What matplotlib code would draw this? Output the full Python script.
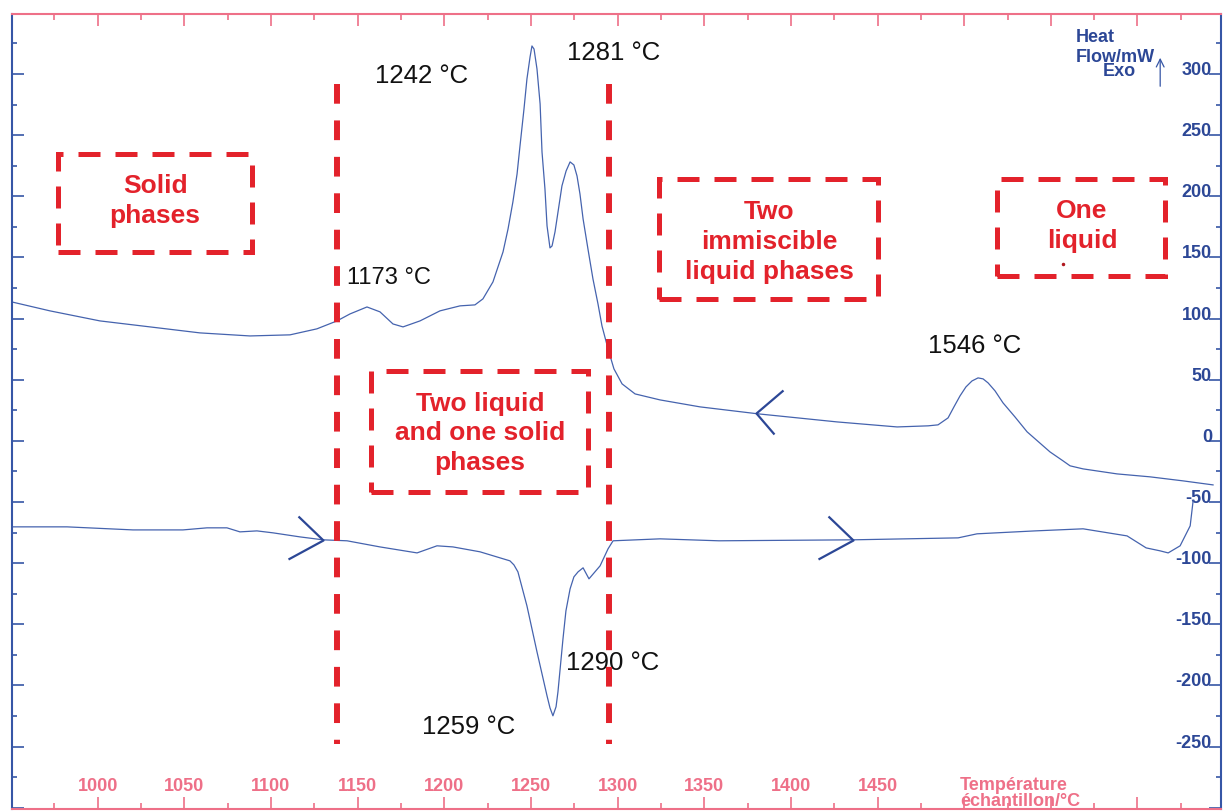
import matplotlib
matplotlib.use('Agg')
import matplotlib.pyplot as plt
from matplotlib.patches import Rectangle
from matplotlib.ticker import FixedLocator, MultipleLocator, FuncFormatter

plt.rcParams['font.family'] = ['Liberation Sans', 'DejaVu Sans']
plt.rcParams['axes.unicode_minus'] = False

# cooling run (upper trace), sample temperature / heat flow in mW
cool_T = [950.5, 972.5, 1001.3, 1030.2, 1059.0, 1087.9, 1111.0, 1126.5, 1138.1,
          1145.6, 1155.4, 1162.9, 1170.4, 1176.2, 1186.0, 1197.5, 1209.1, 1217.7,
          1222.3, 1228.1, 1233.9, 1236.8, 1239.6, 1242.0, 1243.7, 1246.0, 1247.7,
          1249.5, 1250.6, 1251.8, 1253.5, 1255.3, 1256.4, 1258.1, 1259.3, 1261.0,
          1262.2, 1263.9, 1267.9, 1270.3, 1272.6, 1274.8, 1276.6, 1278.3, 1280.1,
          1282.9, 1285.8, 1288.7, 1291.0, 1294.5, 1297.9, 1302.6, 1310.1, 1324.5,
          1347.6, 1381.1, 1426.7, 1461.3, 1479.2, 1484.9, 1490.7, 1494.1, 1497.6,
          1501.0, 1504.5, 1508.0, 1510.9, 1513.8, 1517.8, 1522.4, 1529.3, 1536.3,
          1549.5, 1557.0, 1561.1, 1568.6, 1588.2, 1607.2, 1626.3, 1643.6]
cool_HF = [113.6, 106.3, 98.1, 93.2, 88.3, 85.8, 86.7, 91.6, 98.1,
           103.8, 109.5, 105.5, 95.6, 93.2, 98.1, 106.3, 110.4, 111.2,
           116.1, 130.0, 154.5, 173.3, 195.4, 218.2, 241.2, 271.4, 295.9,
           313.9, 322.9, 320.4, 304.1, 275.5, 236.2, 206.0, 175.8, 157.8,
           159.4, 170.9, 208.5, 220.7, 228.1, 225.6, 216.6, 201.9, 181.5,
           157.0, 132.4, 112.0, 94.0, 75.2, 58.9, 46.6, 38.4, 33.5,
           27.8, 22.1, 15.5, 11.4, 12.3, 13.1, 18.8, 27.8, 36.8,
           44.1, 49.0, 51.5, 50.7, 47.4, 40.9, 31.1, 19.6, 7.4,
           -9.0, -16.3, -20.4, -22.9, -27.0, -29.4, -32.7, -36.0]

# heating run (lower trace)
heat_T = [950.5, 982.3, 1020.4, 1049.2, 1063.1, 1074.6, 1082.1, 1091.9, 1101.2,
          1116.7, 1130.0, 1143.9, 1162.9, 1184.3, 1195.8, 1205.0, 1220.6, 1237.9,
          1240.2, 1242.5, 1247.7, 1253.5, 1259.3, 1261.0, 1262.7, 1264.5, 1265.6,
          1268.5, 1270.2, 1272.6, 1274.8, 1277.2, 1280.1, 1283.5, 1289.9, 1294.5,
          1297.4, 1324.5, 1358.5, 1435.9, 1496.5, 1507.4, 1540.9, 1568.6, 1594.0,
          1605.0, 1613.0, 1617.7, 1624.6, 1630.4, 1632.1]
heat_HF = [-70.3, -70.3, -72.8, -72.8, -71.1, -71.1, -74.4, -73.6, -75.2,
           -78.5, -80.9, -81.7, -86.7, -91.6, -85.8, -86.7, -90.7, -98.1,
           -101.4, -107.1, -134.9, -172.5, -208.5, -218.3, -224.8, -217.4, -205.2,
           -161.9, -139.0, -121.0, -111.2, -107.1, -103.8, -112.8, -102.2, -88.3,
           -81.7, -80.1, -81.7, -80.9, -79.3, -76.0, -73.6, -71.9, -77.7,
           -87.5, -89.9, -91.6, -85.8, -69.5, -49.0]

# direction-of-scan arrow tips
cool_arrow_T = [1380.0]
cool_arrow_HF = [22.9]
heat_arrow_T = [1130.0, 1435.9]
heat_arrow_HF = [-80.9, -80.9]

# phase boundary temperatures
bound_T = [1138.3, 1295.3]

# thermal events
event_labels = ['1242 °C', '1281 °C', '1173 °C', '1546 °C', '1290 °C', '1259 °C']
event_T = [1160.0, 1270.8, 1143.8, 1479.2, 1270.2, 1187.2]
event_HF = [299.2, 318.0, 134.1, 78.5, -180.7, -233.0]

region_labels = ['Solid\nphases', 'Two liquid\nand one solid\nphases',
                 'Two\nimmiscible\nliquid phases', 'One\nliquid']

y_ticks = list(range(-250, 301, 50))
x_ticks = list(range(950, 1651, 50))
x_labelled = list(range(1000, 1451, 50))

pink = '#ee7088'
blue = '#3656a6'
dark_blue = '#2c4796'
curve_col = '#4563ae'
red = '#e3222b'

fig = plt.figure(figsize=(12.25, 8.12), dpi=100)
ax = fig.add_axes([0.00955, 0.00246, 0.9872, 0.979])
ax.set_xlim(950.4, 1648.2)
ax.set_ylim(-301, 349)

ax.plot(cool_T, cool_HF, color=curve_col, lw=0.9)
ax.plot(heat_T, heat_HF, color=curve_col, lw=0.9)

# open chevrons, vertices in pixels relative to the tip (y up)
def chevron(xs, ys, verts):
    m = max(max(abs(a), abs(b)) for a, b in verts)
    ax.plot(xs, ys, linestyle='none', marker=verts, markersize=2 * m * 0.72,
            markerfacecolor='none', markeredgecolor=dark_blue,
            markeredgewidth=1.6, zorder=4)

chevron(cool_arrow_T, cool_arrow_HF, [(27, 23), (0, 0), (18, -21)])
chevron(heat_arrow_T, heat_arrow_HF, [(-25, 24), (0, 0), (-35, -19)])

# phase boundaries, drawn over the event labels
for t in bound_T:
    ax.plot([t, t], [291.8, -247.7], color=red, lw=4.3,
            linestyle=(0, (3.3, 2.8)), solid_capstyle='butt', zorder=5)

# dashed region boxes with their labels
boxes = [(977.1, 154.5, 112.0, 80.1), (1157.7, -41.7, 125.2, 98.9),
         (1323.9, 116.1, 126.4, 98.1), (1519.0, 134.9, 96.9, 79.3)]
centres = [(1033.2, 197.0), (1220.6, 6.9), (1387.4, 163.5), (1568.0, 176.6)]
for (x0, y0, w, h), (cx, cy), lab in zip(boxes, centres, region_labels):
    ax.add_patch(Rectangle((x0, y0), w, h, fill=False, edgecolor=red, lw=3.6,
                           linestyle=(0, (4.4, 3.0)), zorder=3))
    ax.text(cx, cy, lab, color=red, fontsize=19, fontweight='bold',
            ha='center', va='center', multialignment='center', linespacing=1.3)
ax.plot([1557.0], [145.0], marker='.', ms=3, color='#b0181f', linestyle='none')

for lab, t, hf in zip(event_labels, event_T, event_HF):
    size = 17 if lab == '1173 °C' else 18.5
    ax.text(t, hf, lab, fontsize=size, color='#111111', ha='left', va='center')

# axis captions written inside the frame
ax.text(1564.4, 330.3, 'Heat', color=dark_blue, fontsize=13, fontweight='bold',
        ha='left', va='center')
ax.text(1564.4, 313.9, 'Flow/mW', color=dark_blue, fontsize=13, fontweight='bold',
        ha='left', va='center')
ax.text(1580.0, 302.5, 'Exo', color=dark_blue, fontsize=13, fontweight='bold',
        ha='left', va='center')
ax.annotate('', xy=(1613.1, 315.5), xytext=(1613.1, 287.7),
            arrowprops=dict(arrowstyle='->', color=blue, lw=0.9,
                            mutation_scale=14))
ax.text(1497.7, -287.7, 'Température\néchantillon/°C', color=pink, fontsize=13,
        fontweight='bold', ha='left', va='center', linespacing=0.9, clip_on=False)

# ticks
ax.xaxis.set_major_locator(FixedLocator(x_ticks))
ax.xaxis.set_minor_locator(MultipleLocator(25))
ax.xaxis.set_major_formatter(FuncFormatter(
    lambda v, p: '%d' % v if int(round(v)) in x_labelled else ''))
ax.yaxis.set_major_locator(FixedLocator(y_ticks + [-300]))
ax.yaxis.set_minor_locator(MultipleLocator(25))
ax.yaxis.set_major_formatter(FuncFormatter(
    lambda v, p: '%d' % v if int(round(v)) in y_ticks else ''))

ax.tick_params(axis='x', which='both', direction='in', top=True, bottom=True,
               colors=pink, width=1.2)
ax.tick_params(axis='x', which='major', length=8.6, pad=-10.8, labelsize=13)
ax.tick_params(axis='x', which='minor', length=4.3)
ax.tick_params(axis='y', which='both', direction='in', left=True, right=True,
               labelleft=False, labelright=True, colors=blue, width=1.2)
ax.tick_params(axis='y', which='major', length=8.6, pad=-6.5, labelsize=13,
               labelcolor=dark_blue)
ax.tick_params(axis='y', which='minor', length=3.6)

for lbl in ax.get_xticklabels():
    lbl.set_fontweight('bold')
    lbl.set_verticalalignment('bottom')
for lbl in ax.get_yticklabels():
    lbl.set_fontweight('bold')
    lbl.set_horizontalalignment('right')
    lbl.set_verticalalignment('baseline')

for side in ['left', 'right']:
    ax.spines[side].set_color(blue)
    ax.spines[side].set_linewidth(1.5)
for side in ['top', 'bottom']:
    ax.spines[side].set_color(pink)
    ax.spines[side].set_linewidth(1.5)

fig.savefig('out.png', dpi=100)
